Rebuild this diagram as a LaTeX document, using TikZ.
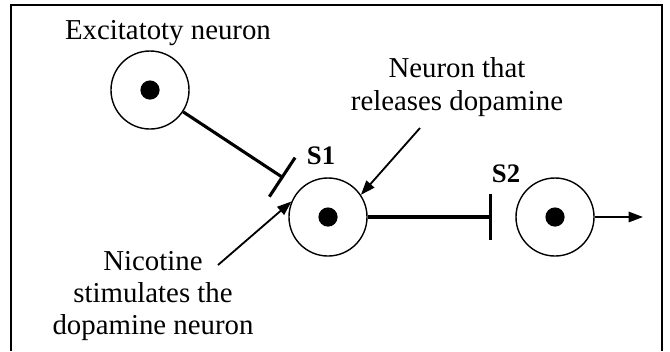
\documentclass[tikz,border=0pt]{standalone}
\usepackage{fontspec}
\setmainfont{Liberation Serif}
\usetikzlibrary{arrows.meta}
\tikzset{neuron/.style={circle, draw, line width=1pt, minimum size=1.95cm, inner sep=0pt,
   path picture={\fill (path picture bounding box.center) circle (0.24cm);}}}
\tikzset{syn/.style={line width=2.2pt, -{Bar[width=1.17cm]}}}
\tikzset{pointer/.style={line width=1.3pt, -{Triangle[length=0.36cm, width=0.26cm]}}}
\tikzset{caption/.style={align=center, font=\fontsize{20.5}{23}\selectfont}}
\tikzset{slabel/.style={font=\fontsize{19}{22}\selectfont\bfseries}}

\begin{document}
\begin{tikzpicture}[x=0.025cm, y=-0.025cm]

    \useasboundingbox (0,0) rectangle (670,351);
    \draw[line width=1.2pt] (11,351) -- (11,5) -- (662,5) -- (662,351);

    \node[neuron] (exc)  at (150,90)  {};
    \node[neuron] (da)   at (328,217) {};
    \node[neuron] (post) at (555,217) {};

    \node[caption, anchor=base] (exclbl) at (168,39) {Excitatoty neuron};
    \node[caption] (rel) at (457,87)  {Neuron that\\releases dopamine};
    \node[caption] (nic) at (153,296) {Nicotine\\stimulates the\\dopamine neuron};

    \node[slabel] (s1lbl) at (321,156) {S1};
    \node[slabel] (s2lbl) at (506,174) {S2};

    \coordinate (s1)      at (283.5,178);
    \coordinate (s2)      at (492,217);
    \coordinate (out)     at (643,217);
    \coordinate (relfrom) at (420,128);
    \coordinate (nicfrom) at (218,265);

    \draw[syn] (exc) -- (s1);
    \draw[syn] (da) -- (s2);
    \draw[pointer] (post) -- (out);
    \draw[pointer] (relfrom) -- (da.34);
    \draw[pointer] (nicfrom) -- (da.157);

\end{tikzpicture}
\end{document}
